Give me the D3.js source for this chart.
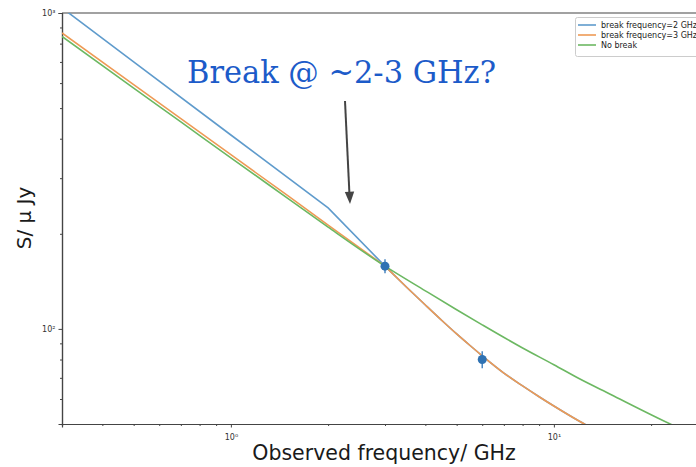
<!DOCTYPE html>
<html><head><meta charset="utf-8">
<script src="https://cdn.jsdelivr.net/npm/d3@7"></script>
<style>body{margin:0;background:#fff}svg{display:block}</style>
</head><body>
<svg id="c" width="696" height="467"></svg>
<script>
// ---- data ----
const seriesNames = ["break frequency=2 GHz", "break frequency=3 GHz", "No break"];
const freqBreak2 = [0.3, 0.5, 1, 2, 3, 3.5, 4, 4.5, 5, 5.5, 6, 7, 8, 9, 10, 12, 14];
const fluxBreak2 = [1038, 700, 411, 241.5, 158, 135.5, 119, 106.3, 96.4, 88.6, 82.2, 72.5, 66, 61, 57, 51, 46.8];
const freqBreak3 = [0.3, 0.5, 0.7, 1, 1.5, 2, 3, 3.5, 4, 4.5, 5, 5.5, 6, 7, 8, 9, 10, 12, 14];
const fluxBreak3 = [865, 593, 463, 356, 264, 213, 158, 135.5, 119, 106.3, 96.4, 88.6, 82.2, 72.5, 66, 61, 57, 51, 46.8];
const freqNoBreak = [0.3, 0.5, 0.7, 1, 1.5, 2, 3, 4, 5, 6, 8, 10, 12, 15, 20, 25, 30];
const fluxNoBreak = [843, 578, 452, 348, 259, 210, 158, 132, 115, 103, 87, 77, 69.5, 62, 53.5, 48, 44.5];
const obsFreq = [3, 6];
const obsFlux = [158, 80];
const obsErr = [8, 5];
const xMajorTicks = [1, 10];
const xMinorTicks = [0.4,0.5,0.6,0.7,0.8,0.9,2,3,4,5,6,7,8,9,20,30];
const yMajorTicks = [100, 1000];
const yMinorTicks = [60,70,80,90,200,300,400,500,600,700,800,900];
const colors = ["#5f9bcc", "#ee9a55", "#6cb862"];

const svg = d3.select("#c");
const L = 62, T = 13, R = 708, B = 424;
const x = d3.scaleLog().domain([0.3, 30]).range([L, R]);
const y = d3.scaleLog().domain([50, 1000]).range([B, T]);

svg.append("defs").append("clipPath").attr("id","clip")
  .append("rect").attr("x",L).attr("y",T).attr("width",R-L).attr("height",B-T);

const supMap = {"0":"\u2070","1":"\u00b9","2":"\u00b2","3":"\u00b3"};
const fmt = d => "10" + supMap[String(Math.round(Math.log10(d)))];

// axes
const axisColor = "#444";
const gx = svg.append("g").attr("transform",`translate(0,${B})`)
  .call(d3.axisBottom(x).tickValues(xMajorTicks).tickFormat(fmt).tickSize(3.5).tickPadding(7));
const gxm = svg.append("g").attr("transform",`translate(0,${B})`)
  .call(d3.axisBottom(x).tickValues(xMinorTicks).tickFormat("").tickSize(2));
const gy = svg.append("g").attr("transform",`translate(${L},0)`)
  .call(d3.axisLeft(y).tickValues(yMajorTicks).tickFormat(fmt).tickSize(3.5).tickPadding(3));
const gym = svg.append("g").attr("transform",`translate(${L},0)`)
  .call(d3.axisLeft(y).tickValues(yMinorTicks).tickFormat("").tickSize(2));
[gx,gxm,gy,gym].forEach(g=>{
  g.select(".domain").attr("stroke",axisColor).attr("stroke-width",1.2);
  g.selectAll(".tick line").attr("stroke",axisColor);
  g.selectAll("text").attr("font-family","DejaVu Sans").attr("font-size","8px").attr("fill","#333");
});
svg.append("line").attr("x1",L).attr("x2",R).attr("y1",T).attr("y2",T).attr("stroke",axisColor).attr("stroke-width",1.2);
svg.append("line").attr("x1",R).attr("x2",R).attr("y1",T).attr("y2",B).attr("stroke",axisColor).attr("stroke-width",1.2);

// lines
const plot = svg.append("g").attr("clip-path","url(#clip)");
const lineLin = d3.line().x(d=>x(d[0])).y(d=>y(d[1]));
const lineSmooth = d3.line().x(d=>x(d[0])).y(d=>y(d[1])).curve(d3.curveMonotoneX);
const series = [
  [freqBreak2, fluxBreak2],
  [freqBreak3, fluxBreak3],
  [freqNoBreak, fluxNoBreak]
];
const splitFreq = 3;
series.forEach((s,i)=>{
  const pts = d3.zip(s[0], s[1]);
  if (i < 2) {
    // straight segments up to 3 GHz, smooth curve above it
    plot.append("path").datum(pts.filter(d=>d[0] <= splitFreq)).attr("d", lineLin)
      .attr("fill","none").attr("stroke", colors[i]).attr("stroke-width",1.6);
    plot.append("path").datum(pts.filter(d=>d[0] >= splitFreq)).attr("d", lineSmooth)
      .attr("fill","none").attr("stroke", colors[i]).attr("stroke-width",1.6);
  } else {
    plot.append("path").datum(pts).attr("d", lineSmooth)
      .attr("fill","none").attr("stroke", colors[i]).attr("stroke-width",1.6);
  }
});

// observed points
obsFreq.forEach((f,i)=>{
  plot.append("line").attr("x1",x(f)).attr("x2",x(f))
    .attr("y1",y(obsFlux[i]-obsErr[i])).attr("y2",y(obsFlux[i]+obsErr[i]))
    .attr("stroke","#4a86c0").attr("stroke-width",1.5);
  plot.append("circle").attr("cx",x(f)).attr("cy",y(obsFlux[i])).attr("r",4.5)
    .attr("fill","#2f72b3");
});

// legend
const lg = svg.append("g");
lg.append("rect").attr("x",575.5).attr("y",17.5).attr("width",125).attr("height",39)
  .attr("fill","#fff").attr("stroke","#ccc").attr("stroke-width",1).attr("rx",2);
seriesNames.forEach((n,i)=>{
  const yy = 25 + i*10;
  lg.append("line").attr("x1",578).attr("x2",596).attr("y1",yy).attr("y2",yy)
    .attr("stroke",colors[i]).attr("stroke-width",1.6);
  lg.append("text").attr("x",601).attr("y",yy+3).text(n)
    .attr("font-family","DejaVu Sans").attr("font-size","8px").attr("fill","#222");
});

// axis labels
svg.append("text").attr("x",384).attr("y",460).attr("text-anchor","middle")
  .attr("font-family","DejaVu Sans").attr("font-size","20.5px").attr("fill","#1a1a1a")
  .text("Observed frequency/ GHz");
svg.append("text").attr("transform","translate(31,218) rotate(-90)").attr("text-anchor","middle")
  .attr("font-family","DejaVu Sans").attr("font-size","20px").attr("fill","#1a1a1a")
  .text("S/ \u03bc Jy");

// annotation
svg.append("text").attr("x",187).attr("y",83)
  .attr("font-family","DejaVu Serif").attr("font-size","32px").attr("fill","#1c5bc9")
  .attr("textLength",309).attr("lengthAdjust","spacingAndGlyphs")
  .text("Break @ ~2-3 GHz?");
svg.append("line").attr("x1",345).attr("y1",101).attr("x2",349.4).attr("y2",193)
  .attr("stroke","#444").attr("stroke-width",2);
svg.append("path").attr("d","M344.8,192 L354.2,191.6 L350,204 Z").attr("fill","#444");
</script>
</body></html>
